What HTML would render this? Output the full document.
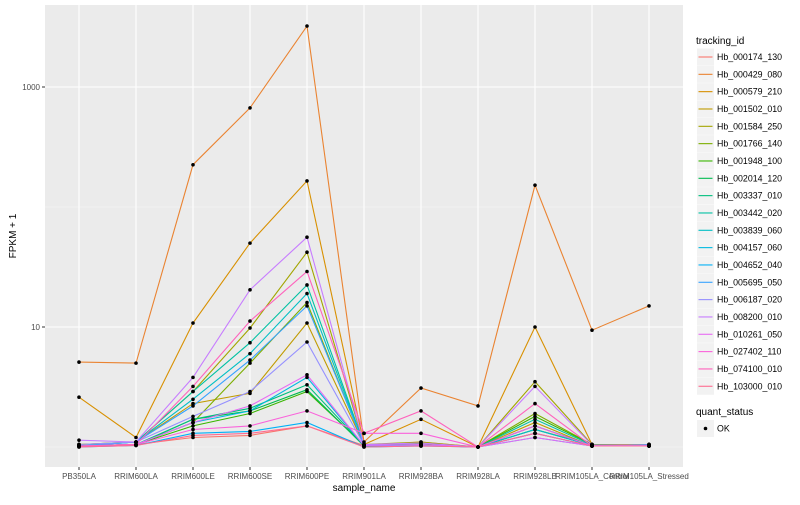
<!DOCTYPE html>
<html><head><meta charset="utf-8"><style>
body{margin:0;background:#fff;}
svg text{font-family:"Liberation Sans",Arial,sans-serif;}
</style></head><body>
<svg id="chart" width="800" height="500" xmlns="http://www.w3.org/2000/svg"></svg>
<script>
const categories=["PB350LA","RRIM600LA","RRIM600LE","RRIM600SE","RRIM600PE","RRIM901LA","RRIM928BA","RRIM928LA","RRIM928LB","RRIM105LA_Control","RRIM105LA_Stressed"];
const seriesNames=["Hb_000174_130","Hb_000429_080","Hb_000579_210","Hb_001502_010","Hb_001584_250","Hb_001766_140","Hb_001948_100","Hb_002014_120","Hb_003337_010","Hb_003442_020","Hb_003839_060","Hb_004157_060","Hb_004652_040","Hb_005695_050","Hb_006187_020","Hb_008200_010","Hb_010261_050","Hb_027402_110","Hb_074100_010","Hb_103000_010"];
const seriesColors=["#F8766D","#EA8331","#D89000","#C09B00","#A3A500","#7CAE00","#39B600","#00BB4E","#00BF7D","#00C1A3","#00BFC4","#00BAE0","#00B0F6","#35A2FF","#9590FF","#C77CFF","#E76BF3","#FA62DB","#FF62BC","#FF6C91"];
const s01=[1.02,1.05,1.2,1.25,1.5,1.03,1.1,1.0,1.4,1.05,1.05];
const s02=[5.1,5.0,225,670,3220,1.1,3.1,2.2,152,9.4,15];
const s03=[2.6,1.2,10.8,50,165,1.05,1.7,1.0,10,1.05,1.05];
const s04=[1.05,1.1,2.3,2.8,10.8,1.05,1.05,1.0,1.6,1.02,1.02];
const s05=[1.05,1.1,2.9,9.8,42,1.05,1.1,1.0,3.5,1.05,1.05];
const s06=[1.02,1.05,1.6,5,16,1.03,1.05,1.0,1.9,1.05,1.03];
const s07=[1.02,1.05,1.5,1.9,2.9,1.04,1.06,1.0,1.8,1.05,1.03];
const s08=[1.02,1.04,1.7,2.0,3.0,1.02,1.05,1.0,1.5,1.03,1.02];
const s09=[1.02,1.05,1.7,2.1,3.3,1.03,1.03,1.0,1.4,1.03,1.02];
const s10=[1.02,1.1,2.9,7.4,22.4,1.05,1.05,1.0,1.7,1.04,1.04];
const s11=[1.02,1.1,2.5,6,19,1.04,1.04,1.0,1.4,1.03,1.03];
const s12=[1.02,1.05,1.6,2.0,3.8,1.02,1.03,1.0,1.3,1.02,1.04];
const s13=[1.0,1.03,1.3,1.35,1.6,1.0,1.02,1.0,1.2,1.02,1.05];
const s14=[1.02,1.1,2.2,5.3,15,1.05,1.03,1.0,1.5,1.03,1.03];
const s15=[1.05,1.1,1.8,2.9,7.5,1.04,1.03,1.0,1.3,1.02,1.02];
const s16=[1.14,1.1,3.8,20.4,56,1.05,1.08,1.0,3.2,1.04,1.04];
const s17=[1.02,1.05,1.6,2.2,4.0,1.03,1.05,1.0,1.2,1.02,1.02];
const s18=[1.02,1.05,1.4,1.5,2.0,1.3,1.3,1.0,1.5,1.02,1.02];
const s19=[1.02,1.05,3.2,11.2,29,1.3,2.0,1.0,2.3,1.02,1.02];
const s20=[1.0,1.03,1.25,1.3,1.5,1.0,1.02,1.0,1.3,1.02,1.02];
const seriesValues=[s01,s02,s03,s04,s05,s06,s07,s08,s09,s10,s11,s12,s13,s14,s15,s16,s17,s18,s19,s20];
const yMajorTicks=[10,1000];
const yMinorTicks=[1,100];

const NS="http://www.w3.org/2000/svg";
const svg=document.getElementById("chart");
const P={l:45,r:683,t:5,b:467};
function x(i){return 79+i*((649-79)/(categories.length-1));}
function y(v){return 447-120*Math.log10(v);}
function mk(tag,attrs,parent){const e=document.createElementNS(NS,tag);for(const k in attrs)e.setAttribute(k,attrs[k]);(parent||svg).appendChild(e);return e;}

const panel=mk("rect",{x:P.l,y:P.t,width:P.r-P.l,height:P.b-P.t,fill:"#EBEBEB"});


yMinorTicks.forEach(v=>{const g=mk("line",{x1:P.l,x2:P.r,y1:y(v),y2:y(v),stroke:"#F5F5F5","stroke-width":0.6});

});
yMajorTicks.forEach(v=>{const g=mk("line",{x1:P.l,x2:P.r,y1:y(v),y2:y(v),stroke:"#fff","stroke-width":1.1});


mk("line",{x1:P.l-3,x2:P.l,y1:y(v),y2:y(v),stroke:"#333"});
const t=mk("text",{x:P.l-5,y:y(v)+3,"text-anchor":"end","font-size":8,fill:"#4D4D4D"});t.textContent=String(v);

});
categories.forEach((c,i)=>{const g=mk("line",{x1:x(i),x2:x(i),y1:P.t,y2:P.b,stroke:"#fff","stroke-width":1.1});


mk("line",{x1:x(i),x2:x(i),y1:P.b,y2:P.b+3,stroke:"#333"});
const t=mk("text",{x:x(i),y:P.b+12,"text-anchor":"middle","font-size":8,fill:"#4D4D4D"});t.textContent=c;

});

seriesValues.forEach((vals,si)=>{
 const d=vals.map((v,i)=>(i?"L":"M")+x(i).toFixed(1)+","+y(v).toFixed(1)).join(" ");
 const p=mk("path",{d:d,fill:"none",stroke:seriesColors[si],"stroke-width":1.1});
 
 
});
seriesValues.forEach((vals,si)=>{vals.forEach((v,i)=>{
 const c=mk("circle",{cx:x(i),cy:y(v),r:1.8,fill:"#000"});
 
 
});});

const xt=mk("text",{x:(P.l+P.r)/2,y:491,"text-anchor":"middle","font-size":10,fill:"#000"});xt.textContent="sample_name";


const yt=mk("text",{x:0,y:0,transform:"translate(16,"+((P.t+P.b)/2)+") rotate(-90)","text-anchor":"middle","font-size":10,fill:"#000"});yt.textContent="FPKM + 1";



const lt=mk("text",{x:696,y:44,"font-size":10,fill:"#000"});lt.textContent="tracking_id";


seriesNames.forEach((n,i)=>{const cy=57+i*17.33;
 const g=mk("g",{});
 
 
 mk("rect",{x:697,y:cy-8.5,width:17,height:17,fill:"#F2F2F2"},g);
 mk("line",{x1:698.5,x2:712.5,y1:cy,y2:cy,stroke:seriesColors[i],"stroke-width":1.1},g);
 const t=mk("text",{x:717,y:cy+3,"font-size":8.8,fill:"#000"},g);t.textContent=n;});
const qt=mk("text",{x:696,y:415,"font-size":10,fill:"#000"});qt.textContent="quant_status";


const qg=mk("g",{});


mk("rect",{x:697,y:420,width:17,height:17,fill:"#F2F2F2"},qg);
mk("circle",{cx:705.5,cy:428.5,r:1.8,fill:"#000"},qg);
const okt=mk("text",{x:717,y:431.5,"font-size":8.8,fill:"#000"},qg);okt.textContent="OK";
</script>
</body></html>
